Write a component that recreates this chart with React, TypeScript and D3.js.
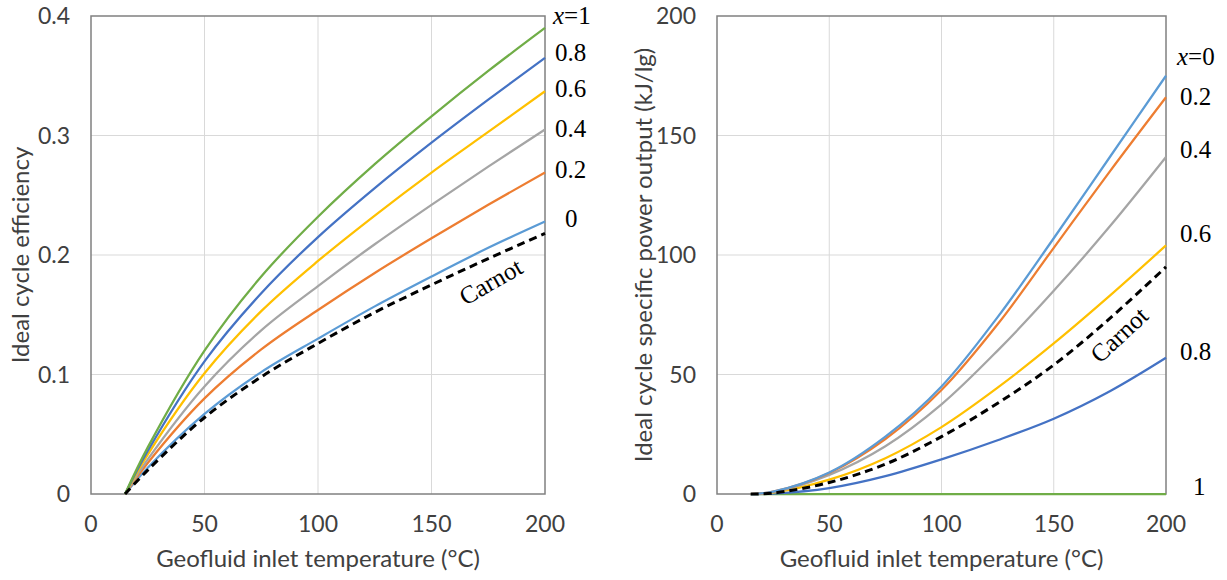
import React from "react";
import * as d3 from "d3";

// ---- Data ----
const temps = [15, 25, 50, 75, 100, 125, 150, 175, 200];

// Left panel: ideal cycle efficiency
const effX1 = [0, 0.039, 0.12, 0.182, 0.232, 0.276, 0.316, 0.354, 0.39];
const effX08 = [0, 0.036, 0.111, 0.168, 0.215, 0.256, 0.294, 0.33, 0.365];
const effX06 = [0, 0.033, 0.101, 0.153, 0.195, 0.233, 0.269, 0.303, 0.337];
const effX04 = [0, 0.029, 0.09, 0.137, 0.174, 0.209, 0.242, 0.274, 0.305];
const effX02 = [0, 0.026, 0.08, 0.121, 0.154, 0.185, 0.214, 0.242, 0.269];
const effX0 = [0, 0.022, 0.067, 0.102, 0.13, 0.157, 0.182, 0.206, 0.228];
const effCarnot = [0, 0.02, 0.064, 0.098, 0.126, 0.152, 0.175, 0.197, 0.218];

// Right panel: ideal cycle specific power output
const powX0 = [0, 1, 9, 24, 45, 74, 107, 141, 175];
const powX02 = [0, 1, 8.8, 23, 43.5, 71, 103, 135, 166];
const powX04 = [0, 0.8, 8, 20, 37.5, 60, 85, 112, 141];
const powX06 = [0, 0.6, 6, 15, 28, 44.5, 63, 83, 104];
const powCarnot = [0, 0.4, 4.8, 12.5, 24, 38, 54, 73.5, 95];
const powX08 = [0, 0.2, 2.5, 7.5, 14.5, 22.5, 31.5, 43, 57];
const powX1 = [0, 0, 0, 0, 0, 0, 0, 0, 0];

const xTicks = [0, 50, 100, 150, 200];
const effTicks = [0, 0.1, 0.2, 0.3, 0.4];
const powTicks = [0, 50, 100, 150, 200];

const C_GREEN = "#70AD47";
const C_BLUE = "#4472C4";
const C_YELLOW = "#FFC000";
const C_GRAY = "#A5A5A5";
const C_ORANGE = "#ED7D31";
const C_LBLUE = "#5B9BD5";

type Series = { values: number[]; color: string; dashed?: boolean };

const leftSeries: Series[] = [
  { values: effX0, color: C_LBLUE },
  { values: effX02, color: C_ORANGE },
  { values: effX04, color: C_GRAY },
  { values: effX06, color: C_YELLOW },
  { values: effX08, color: C_BLUE },
  { values: effX1, color: C_GREEN },
  { values: effCarnot, color: "#000", dashed: true },
];

const rightSeries: Series[] = [
  { values: powX1, color: C_GREEN },
  { values: powX08, color: C_BLUE },
  { values: powX06, color: C_YELLOW },
  { values: powX04, color: C_GRAY },
  { values: powX02, color: C_ORANGE },
  { values: powX0, color: C_LBLUE },
  { values: powCarnot, color: "#000", dashed: true },
];

const leftLabels = [
  { text: "=1", italicX: true, y: 24, x: 553 },
  { text: "0.8", y: 61, x: 555 },
  { text: "0.6", y: 97, x: 555 },
  { text: "0.4", y: 137, x: 555 },
  { text: "0.2", y: 178, x: 555 },
  { text: "0", y: 227, x: 565 },
];
const rightLabels = [
  { text: "=0", italicX: true, y: 65, x: 1177 },
  { text: "0.2", y: 105, x: 1180 },
  { text: "0.4", y: 158, x: 1180 },
  { text: "0.6", y: 242, x: 1180 },
  { text: "0.8", y: 360, x: 1180 },
  { text: "1", y: 495, x: 1193 },
];

const SANS = "Lato, 'Open Sans', sans-serif";
const SERIF = "'Liberation Serif', 'DejaVu Serif', serif";
const TEXT_COLOR = "#404040";

type PanelProps = {
  x0: number;
  x1: number;
  yTop: number;
  yBot: number;
  yMax: number;
  yTicks: number[];
  yFmt: (v: number) => string;
  series: Series[];
  yTitle: string;
  yTitleX: number;
  labels: { text: string; italicX?: boolean; y: number; x: number }[];
  carnot: { x: number; y: number; angle: number };
};

function Panel(p: PanelProps) {
  const xs = d3.scaleLinear().domain([0, 200]).range([p.x0, p.x1]);
  const ys = d3.scaleLinear().domain([0, p.yMax]).range([p.yBot, p.yTop]);
  const line = d3
    .line<number>()
    .x((_, i) => xs(temps[i]))
    .y((v) => ys(v))
    .curve(d3.curveCatmullRom.alpha(0.5));
  const cx = (p.x0 + p.x1) / 2;
  const cy = (p.yTop + p.yBot) / 2;
  return (
    <g>
      {xTicks.slice(1, -1).map((t) => (
        <line key={"gx" + t} x1={xs(t)} x2={xs(t)} y1={p.yTop} y2={p.yBot} stroke="#D9D9D9" strokeWidth={1} />
      ))}
      {p.yTicks.slice(1, -1).map((t) => (
        <line key={"gy" + t} x1={p.x0} x2={p.x1} y1={ys(t)} y2={ys(t)} stroke="#D9D9D9" strokeWidth={1} />
      ))}
      <rect x={p.x0} y={p.yTop} width={p.x1 - p.x0} height={p.yBot - p.yTop} fill="none" stroke="#808080" strokeWidth={1.5} />
      {p.series.map((s, i) => (
        <path
          key={i}
          d={line(s.values) || ""}
          fill="none"
          stroke={s.color}
          strokeWidth={s.dashed ? 3 : 2.25}
          strokeDasharray={s.dashed ? "8,5" : undefined}
        />
      ))}
      {xTicks.map((t) => (
        <text key={"xt" + t} x={xs(t)} y={532} textAnchor="middle" fontFamily={SANS} fontSize={23} fill={TEXT_COLOR}>
          {t}
        </text>
      ))}
      {p.yTicks.map((t) => (
        <text key={"yt" + t} x={p.x0 - 21} y={ys(t) + 8} textAnchor="end" fontFamily={SANS} fontSize={23} fill={TEXT_COLOR}>
          {p.yFmt(t)}
        </text>
      ))}
      <text x={cx} y={567} textAnchor="middle" fontFamily={SANS} fontSize={24} fill={TEXT_COLOR}>
        Geofluid inlet temperature (°C)
      </text>
      <text
        transform={`translate(${p.yTitleX},${cy}) rotate(-90)`}
        textAnchor="middle"
        fontFamily={SANS}
        fontSize={24}
        fill={TEXT_COLOR}
      >
        {p.yTitle}
      </text>
      {p.labels.map((l, i) => (
        <text key={"lb" + i} x={l.x} y={l.y} fontFamily={SERIF} fontSize={25} fill="#000">
          {l.italicX ? <tspan fontStyle="italic">x</tspan> : null}
          {l.text}
        </text>
      ))}
      <text
        transform={`translate(${p.carnot.x},${p.carnot.y}) rotate(${p.carnot.angle})`}
        textAnchor="middle"
        fontFamily={SERIF}
        fontSize={25}
        fill="#000"
      >
        Carnot
      </text>
    </g>
  );
}

export default function App() {
  return (
    <svg width={1227} height={580} style={{ position: "absolute", left: 0, top: 0, background: "#fff" }}>
      <rect width={1227} height={580} fill="#fff" />
      <Panel
        x0={91}
        x1={545}
        yTop={16}
        yBot={494}
        yMax={0.4}
        yTicks={effTicks}
        yFmt={(v) => (v === 0 ? "0" : String(v))}
        series={leftSeries}
        yTitle="Ideal cycle efficiency"
        yTitleX={29}
        labels={leftLabels}
        carnot={{ x: 495, y: 289, angle: -30 }}
      />
      <Panel
        x0={717}
        x1={1166}
        yTop={16}
        yBot={494}
        yMax={200}
        yTicks={powTicks}
        yFmt={(v) => String(v)}
        series={rightSeries}
        yTitle="Ideal cycle specific power output (kJ/lg)"
        yTitleX={652}
        labels={rightLabels}
        carnot={{ x: 1125, y: 341, angle: -43 }}
      />
    </svg>
  );
}
